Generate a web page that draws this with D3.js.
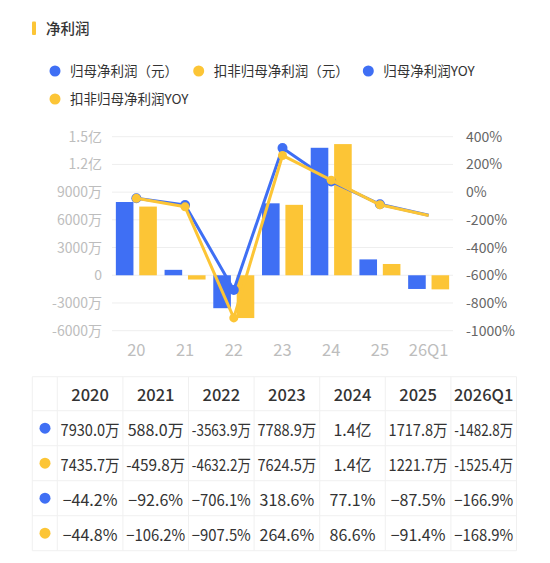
<!DOCTYPE html>
<html><head><meta charset="utf-8">
<script src="https://cdn.jsdelivr.net/npm/d3@7/dist/d3.min.js"></script>
<style>
body{margin:0;background:#fff;}
svg{display:block;font-family:"Noto Sans CJK SC","Noto Sans",sans-serif;}
</style></head>
<body><svg id="c" width="550" height="563"></svg>
<script>
const categories = ["20","21","22","23","24","25","26Q1"];
const years = ["2020","2021","2022","2023","2024","2025","2026Q1"];
const netProfit = [7930.0e4, 588.0e4, -3563.9e4, 7788.9e4, 1.38e8, 1717.8e4, -1482.8e4];
const deductedProfit = [7435.7e4, -459.8e4, -4632.2e4, 7624.5e4, 1.42e8, 1221.7e4, -1525.4e4];
const netYoy = [-44.2, -92.6, -706.1, 318.6, 77.1, -87.5, -166.9];
const deductedYoy = [-44.8, -106.2, -907.5, 264.6, 86.6, -91.4, -168.9];
const leftTicks = [-6e7, -3e7, 0, 3e7, 6e7, 9e7, 1.2e8, 1.5e8];
const rightTicks = [-1000, -800, -600, -400, -200, 0, 200, 400];
const legendItems = ["归母净利润（元）","扣非归母净利润（元）","归母净利润YOY","扣非归母净利润YOY"];

const BLUE = "#3f6ff4", YELLOW = "#fcc536";
const svg = d3.select("#c");

// title
svg.append("rect").attr("x",32).attr("y",21.5).attr("width",4).attr("height",13.5).attr("fill",YELLOW).attr("rx",1);
svg.append("text").attr("x",46).attr("y",34).attr("font-size",14.5).attr("fill","#333").attr("font-weight",500).text("净利润");

// legend
const legPos = [[55,71],[198.7,71],[368.3,71],[55,99]];
const legColors = [BLUE, YELLOW, BLUE, YELLOW];
const lg = svg.append("g").selectAll("g").data(legendItems).join("g")
  .attr("transform",(d,i)=>`translate(${legPos[i][0]},${legPos[i][1]})`);
lg.append("circle").attr("r",5.5).attr("fill",(d,i)=>legColors[i]);
lg.append("text").attr("x",15).attr("y",5).attr("font-size",13.5).attr("fill","#333").text(d=>d);

// scales
const x = d3.scaleBand().domain(categories).range([112, 453]).padding(0);
const yL = d3.scaleLinear().domain([-6e7, 1.5e8]).range([330.7, 136.7]);
const yR = d3.scaleLinear().domain([-1000, 400]).range([330.7, 136.7]);

// grid
svg.append("g").selectAll("line").data(leftTicks).join("line")
  .attr("x1",112).attr("x2",453).attr("y1",d=>yL(d)).attr("y2",d=>yL(d))
  .attr("stroke","#eeeeee").attr("stroke-width",1);

// left axis
const fmtL = v => v===0 ? "0" : (Math.abs(v)>=1e8 ? (v/1e8).toFixed(1)+"亿" : (v/1e4)+"万");
const axL = d3.axisLeft(yL).tickValues(leftTicks).tickFormat(fmtL).tickSize(0).tickPadding(10);
const gL = svg.append("g").attr("transform","translate(112,0)").call(axL);
gL.select(".domain").remove();
gL.selectAll("text").attr("font-size",14).attr("fill","#bdbdbd").attr("font-family","Noto Sans CJK SC");

// right axis
const axR = d3.axisRight(yR).tickValues(rightTicks).tickFormat(d=>d3.format("d")(d).replace("−","-")+"%").tickSize(0).tickPadding(13);
const gR = svg.append("g").attr("transform","translate(453,0)").call(axR);
gR.select(".domain").remove();
gR.selectAll("text").attr("font-size",14).attr("fill","#666").attr("font-family","Noto Sans CJK SC");

// x axis
const axX = d3.axisBottom(x).tickSize(0).tickPadding(14);
const gX = svg.append("g").attr("transform","translate(0,330.7)").call(axX);
gX.select(".domain").remove();
gX.selectAll("text").attr("font-size",16.5).attr("fill","#bdbdbd").attr("font-family","Noto Sans CJK SC");

// bars
const bw = 17.6, off = 11.7;
const cx = c => x(c) + x.bandwidth()/2;
function bars(vals, color, dx){
  svg.append("g").selectAll("rect").data(vals).join("rect")
    .attr("x",(d,i)=>cx(categories[i]) + dx - bw/2)
    .attr("y",d=>Math.min(yL(d), yL(0)))
    .attr("width",bw)
    .attr("height",d=>Math.abs(yL(d)-yL(0)))
    .attr("fill",color);
}
bars(netProfit, BLUE, -off);
bars(deductedProfit, YELLOW, off);

// lines
function line(vals, color){
  const l = d3.line().x((d,i)=>cx(categories[i])).y(d=>yR(d));
  svg.append("path").datum(vals).attr("d",l).attr("fill","none").attr("stroke",color).attr("stroke-width",3).attr("stroke-linejoin","round");
}
function marks(vals, color, r){
  svg.append("g").selectAll("circle").data(vals.slice(0, vals.length-1)).join("circle")
    .attr("cx",(d,i)=>cx(categories[i])).attr("cy",d=>yR(d)).attr("r",r).attr("fill",color);
}
line(netYoy, BLUE);
marks(netYoy, BLUE, 5);
line(deductedYoy, YELLOW);
marks(deductedYoy, YELLOW, 4.5);

// table
const tx0 = 32.3, dotW = 25, colW = 65.6, hdrH = 34, rowH = 35, ty0 = 376.7;
const tableW = dotW + colW*years.length;
const rowsN = 4;
const tg = svg.append("g");
const hY = [ty0];
for(let i=0;i<=rowsN;i++) hY.push(ty0 + hdrH + rowH*i);
tg.selectAll("line.h").data(hY).join("line").attr("class","h")
  .attr("x1",tx0).attr("x2",tx0+tableW).attr("y1",d=>d).attr("y2",d=>d)
  .attr("stroke","#f0f0f0");
const vX = [tx0, tx0+dotW];
years.forEach((y,i)=>vX.push(tx0+dotW+colW*(i+1)));
tg.selectAll("line.v").data(vX).join("line").attr("class","v")
  .attr("x1",d=>d).attr("x2",d=>d).attr("y1",ty0).attr("y2",hY[hY.length-1])
  .attr("stroke","#f0f0f0");

const colC = i => tx0 + dotW + colW*i + colW/2;
tg.selectAll("text.hd").data(years).join("text").attr("class","hd")
  .attr("x",(d,i)=>colC(i)).attr("y",ty0+24).attr("text-anchor","middle")
  .attr("font-size",16.5).attr("font-weight",500).attr("fill","#333").text(d=>d);

const fmtMoney = v => Math.abs(v)>=1e8 ? (v/1e8).toFixed(1)+"亿" : (v/1e4).toFixed(1)+"万";
const fmtPct = v => d3.format(".1f")(v) + "%";
const rowsData = [
  {vals: netProfit.map(fmtMoney), color: BLUE},
  {vals: deductedProfit.map(fmtMoney), color: YELLOW},
  {vals: netYoy.map(fmtPct), color: BLUE},
  {vals: deductedYoy.map(fmtPct), color: YELLOW}
];
rowsData.forEach((r,ri)=>{
  const yTop = ty0 + hdrH + rowH*ri;
  tg.append("circle").attr("cx",tx0+12.7).attr("cy",yTop+rowH/2).attr("r",5.5).attr("fill",r.color);
  tg.append("g").selectAll("text").data(r.vals).join("text")
    .attr("x",(d,i)=>colC(i)).attr("y",yTop+25).attr("text-anchor","middle")
    .attr("font-size",16).attr("fill","#333").text(d=>d)
    .each(function(){
      const w = this.getComputedTextLength();
      if (w > 59) d3.select(this).attr("textLength",59).attr("lengthAdjust","spacingAndGlyphs");
    });
});
</script></body></html>
